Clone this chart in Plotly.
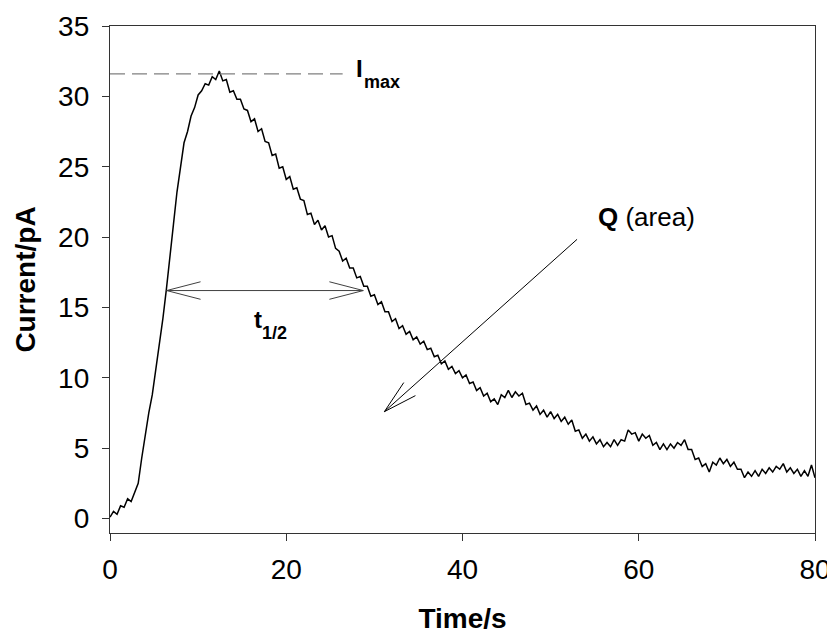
import math
import plotly.graph_objects as go

# ---------------- data ----------------
T_START = 0.0
T_STEP = 0.4  # sampling interval of the trace, s

CURRENT_0_4 = [0.1, 0.5, 0.3, 0.9, 0.8, 1.4, 1.2, 1.9, 2.5, 4.3]
CURRENT_4_8 = [6.0, 7.5, 8.8, 10.5, 12.3, 14.2, 16.3, 18.4, 20.9, 23.2]
CURRENT_8_12 = [25.1, 26.7, 27.5, 28.6, 29.2, 30.1, 30.4, 30.9, 30.8, 31.4]
CURRENT_12_16 = [31.2, 31.8, 31.1, 31.2, 30.3, 30.4, 29.8, 29.8, 29.1, 29.0]
CURRENT_16_20 = [28.2, 28.4, 27.5, 27.7, 26.8, 26.7, 25.8, 25.9, 24.9, 25.0]
CURRENT_20_24 = [24.1, 24.3, 23.4, 23.5, 22.7, 22.6, 21.6, 21.7, 20.9, 21.2]
CURRENT_24_28 = [20.5, 20.8, 20.0, 20.1, 19.2, 19.0, 18.3, 18.5, 17.8, 17.8]
CURRENT_28_32 = [17.1, 17.2, 16.5, 16.5, 15.8, 15.9, 15.2, 15.4, 14.7, 14.7]
CURRENT_32_36 = [14.0, 14.2, 13.5, 13.7, 13.1, 13.3, 12.7, 12.9, 12.4, 12.6]
CURRENT_36_40 = [12.0, 12.1, 11.5, 11.6, 11.0, 11.2, 10.6, 10.8, 10.3, 10.5]
CURRENT_40_44 = [10.0, 10.2, 9.6, 9.7, 9.1, 9.3, 8.7, 8.9, 8.3, 8.5]
CURRENT_44_48 = [8.1, 8.8, 8.6, 9.1, 8.6, 9.0, 8.7, 8.9, 8.1, 8.2]
CURRENT_48_52 = [7.7, 8.0, 7.4, 7.7, 7.2, 7.6, 7.1, 7.4, 6.9, 7.2]
CURRENT_52_56 = [6.7, 7.0, 6.2, 6.3, 5.7, 6.0, 5.5, 5.8, 5.3, 5.6]
CURRENT_56_60 = [5.1, 5.4, 5.1, 5.6, 5.2, 5.6, 5.5, 6.3, 6.0, 6.1]
CURRENT_60_64 = [5.5, 6.0, 5.7, 5.9, 5.2, 5.4, 4.9, 5.3, 4.9, 5.3]
CURRENT_64_68 = [5.0, 5.4, 5.2, 5.6, 4.9, 4.9, 4.2, 4.3, 3.7, 3.9]
CURRENT_68_72 = [3.3, 4.0, 3.8, 4.3, 3.9, 4.2, 3.7, 4.0, 3.5, 3.5]
CURRENT_72_76 = [2.9, 3.3, 3.0, 3.4, 3.0, 3.5, 3.2, 3.6, 3.3, 3.7]
CURRENT_76_80 = [3.5, 3.9, 3.3, 3.6, 3.2, 3.5, 3.0, 3.4, 3.0, 3.8]
CURRENT_END = [2.9]

X_TICKS = [0, 20, 40, 60, 80]
Y_TICKS = [0, 5, 10, 15, 20, 25, 30, 35]

I_MAX = 31.6          # level of the dashed I_max line
I_MAX_LINE_END = 26.4  # time where the dashed line stops
T_HALF_LEVEL = 16.2   # current level of the t1/2 arrow
T_HALF_START = 6.43
T_HALF_END = 28.74
Q_ARROW_TIP = (31.13, 7.59)
Q_ARROW_TAIL = (53.0, 19.84)

current = (CURRENT_0_4 + CURRENT_4_8 + CURRENT_8_12 + CURRENT_12_16 + CURRENT_16_20
           + CURRENT_20_24 + CURRENT_24_28 + CURRENT_28_32 + CURRENT_32_36
           + CURRENT_36_40 + CURRENT_40_44 + CURRENT_44_48 + CURRENT_48_52
           + CURRENT_52_56 + CURRENT_56_60 + CURRENT_60_64 + CURRENT_64_68
           + CURRENT_68_72 + CURRENT_72_76 + CURRENT_76_80 + CURRENT_END)
time = [round(T_START + i * T_STEP, 3) for i in range(len(current))]

# ---------------- layout geometry ----------------
# the html page adds an 8px body margin, so the figure is made 8px smaller
W, H = 827, 626
M_L, M_R, M_T, M_B = 102, 20, 18, 101
X_RANGE = [0, 80]
Y_RANGE = [-1.03, 35]
px_per_x = (W - M_L - M_R) / (X_RANGE[1] - X_RANGE[0])
px_per_y = (H - M_T - M_B) / (Y_RANGE[1] - Y_RANGE[0])

FONT = "Arial, Liberation Sans, Helvetica, sans-serif"


def arrow_head(tip, tail, length_px=35, half_angle_deg=14.5):
    """Open V arrow head (two strokes) at tip, pointing away from tail."""
    dxp = (tail[0] - tip[0]) * px_per_x
    dyp = (tail[1] - tip[1]) * px_per_y
    ang = math.atan2(dyp, dxp)
    paths = []
    for s in (-1, 1):
        a = ang + s * math.radians(half_angle_deg)
        ex = tip[0] + length_px * math.cos(a) / px_per_x
        ey = tip[1] + length_px * math.sin(a) / px_per_y
        paths.append(dict(type="line", xref="x", yref="y", x0=tip[0], y0=tip[1],
                          x1=ex, y1=ey))
    return paths


fig = go.Figure()
fig.add_trace(go.Scatter(x=time, y=current, mode="lines",
                         line=dict(color="black", width=1.5),
                         showlegend=False, hoverinfo="skip"))

shapes = []
# dashed I_max line
shapes.append(dict(type="line", xref="x", yref="y", x0=X_RANGE[0], x1=I_MAX_LINE_END,
                   y0=I_MAX, y1=I_MAX,
                   line=dict(color="#808080", width=1.3, dash="15px,7px")))
# t1/2 double arrow
T_COL = "#404040"
shapes.append(dict(type="line", xref="x", yref="y", x0=T_HALF_START, x1=T_HALF_END,
                   y0=T_HALF_LEVEL, y1=T_HALF_LEVEL, line=dict(color=T_COL, width=1)))
for s in arrow_head((T_HALF_START, T_HALF_LEVEL), (T_HALF_END, T_HALF_LEVEL)):
    s["line"] = dict(color=T_COL, width=1)
    shapes.append(s)
for s in arrow_head((T_HALF_END, T_HALF_LEVEL), (T_HALF_START, T_HALF_LEVEL)):
    s["line"] = dict(color=T_COL, width=1)
    shapes.append(s)
# Q arrow
shapes.append(dict(type="line", xref="x", yref="y", x0=Q_ARROW_TAIL[0], y0=Q_ARROW_TAIL[1],
                   x1=Q_ARROW_TIP[0], y1=Q_ARROW_TIP[1], line=dict(color="black", width=1)))
for s in arrow_head(Q_ARROW_TIP, Q_ARROW_TAIL):
    s["line"] = dict(color="black", width=1)
    shapes.append(s)

annotations = [
    dict(x=27.7, y=31.95, text="<b>I</b>", font=dict(size=24, family=FONT, color="black")),
    dict(x=28.55, y=31.02, text="<b>max</b>", font=dict(size=18, family=FONT, color="black")),
    dict(x=16.1, y=14.15, text="<b>t</b>", font=dict(size=24, family=FONT, color="black")),
    dict(x=17.05, y=13.19, text="<b>1/2</b>", font=dict(size=18, family=FONT, color="black")),
    dict(x=55.1, y=21.43, text="<b>Q</b> (area)", font=dict(size=26, family=FONT, color="black")),
]
for a in annotations:
    a.update(xref="x", yref="y", xanchor="left", yanchor="middle", showarrow=False)

axis_common = dict(showgrid=False, zeroline=False, showline=True, linecolor="#333333",
                   linewidth=1.3, mirror=True, ticks="outside", ticklen=7, tickwidth=1.3,
                   tickcolor="#333333", automargin=False,
                   tickfont=dict(size=28, family=FONT, color="black"))

fig.update_layout(
    width=W, height=H,
    margin=dict(l=M_L, r=M_R, t=M_T, b=M_B),
    paper_bgcolor="white", plot_bgcolor="white",
    shapes=shapes, annotations=annotations,
    xaxis=dict(range=X_RANGE, tickvals=X_TICKS, ticktext=[str(v) for v in X_TICKS],
               ticklabelstandoff=4,
               title=dict(text="<b>Time/s</b>", font=dict(size=28, family=FONT, color="black"),
                          standoff=24),
               **axis_common),
    yaxis=dict(range=Y_RANGE, tickvals=Y_TICKS, ticktext=[str(v) for v in Y_TICKS],
               ticklabelstandoff=7,
               title=dict(text="<b>Current/pA</b>", font=dict(size=28, family=FONT, color="black"),
                          standoff=14),
               **axis_common),
)

fig.write_html("out.html")
